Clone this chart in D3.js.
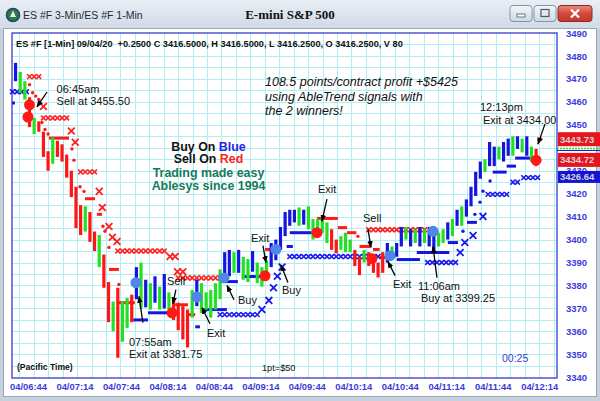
<!DOCTYPE html>
<html><head><meta charset="utf-8">
<script src="https://cdn.jsdelivr.net/npm/d3@7"></script>
<style>body{margin:0;background:#fff;overflow:hidden}svg{display:block;font-family:"Liberation Sans",Arial,sans-serif}</style>
</head><body>
<svg id="c" width="600" height="401"></svg>
<script>
// ---------------- DATA (time = minutes after 06:44, price in index points) ----------------
const xTickLabels = ["04/06:44","04/07:14","04/07:44","04/08:14","04/08:44","04/09:14","04/09:44","04/10:14","04/10:44","04/11:14","04/11:44","04/12:14"];
const xTickTimes  = [0,30,60,90,120,150,180,210,240,270,300,330];
// 3440 sits fully under the price tags in the reference, so it is not printed
const yTickLabels = [3340,3350,3360,3370,3380,3390,3400,3410,3420,3430,3450,3460,3470,3480,3490];

// 3-minute bars starting 06:36
const barHigh = [3477,3473,3469,3462,3453,3451.5,3447,3438.5,3444.5,3443,3441.5,3437,3430,3423,3415,3414.5,3412,3403.5,3402,3393.5,
 3381.5,3373,3379,3373,3374.5,3376,3388,3390,3382.5,3381,3384,3379.5,3385,3377,3374,3372.5,3371,3369.5,3378,3382.5,
 3381,3377,3378,3381,3387,3394.5,3395.5,3394.5,3395.5,3392.5,3391.5,3395,3390,3388,3391,3398.5,3400,3405.5,3412,3413,
 3413,3414,3413,3414.5,3409,3409,3410,3407.5,3404.5,3400,3401.5,3403,3400,3395.5,3392.5,3395.5,3394.5,3392.5,3390,3394.5,
 3398.5,3397,3398.5,3405.5,3405.5,3404.5,3404.5,3405.5,3404.5,3405.5,3403,3403,3404.5,3407.5,3409,3413,3414.5,3417.5,3423,3429.5,
 3434,3435,3442.5,3440.5,3440.5,3442.5,3444,3445,3445,3444,3445,3440.5,3439.5];
const barLow = [3469,3464,3461,3449,3446,3447,3436,3430,3433,3436,3434,3427,3418.5,3405,3402,3403.5,3399,3395,3388,3379,
 3364,3360,3348.5,3355.5,3361.5,3364,3374,3370,3370.5,3369.5,3372.5,3369.5,3370,3369.5,3365,3360.5,3356.5,3353,3366,3371,
 3368,3369.5,3366,3369.5,3374,3382.5,3384,3385.5,3385.5,3382.5,3381.5,3386,3381,3379.5,3382.5,3388,3391,3395.5,3401.5,3406,
 3407.5,3406,3406.5,3404.5,3400,3401.5,3403,3398.5,3395.5,3394,3395.5,3394.5,3394.5,3388.5,3384.5,3390,3388.5,3385.5,3383.5,3385.5,
 3390,3391.5,3392.5,3397,3400,3397,3398.5,3397,3398.5,3397,3394.5,3397,3398.5,3400,3401.5,3406,3406,3410,3414.5,3419,
 3426.5,3429.5,3432,3432,3435,3434,3436.5,3436.5,3439.5,3438,3436.5,3434,3432];
const barTrend = "BGGRGRRRGRRRRRRGRRGRRGRGGRBGBGBGBGRRRRGBGGGGGBBGBGGBGGGBBBBBBGBGGGGGRRGGGRRGRRRRBGBBGBGBGBBGGBGBGBBBBGBBGBBGBGBGR";

// AbleTrend stop levels: rows of x markers [from, to, price], single x [t, price], dots, dashes [from, to, price]
const redRows   = [[1,7,3471],[10,25,3453],[34,43,3429.5],[58,88,3395],[97,124,3383.3],[220,256,3404.3]];
const redSingle = [[10,3458],[28,3447.3],[30.5,3442.4],[46,3421],[48,3414],[52.3,3405.7],[54.5,3401],[57.5,3399.2],[91.7,3392.6],[95,3392.6],[96.5,3386],[100,3386]];
const redDots   = [[1,3467.5],[3,3464],[5,3462.5],[7,3461],[9,3451],[11,3448],[13,3446],[28.4,3439.5],[29.7,3434.6],[33.6,3423],[36.2,3421],[48.4,3405.8],[49.7,3403.6],[52.3,3396.6],[58.7,3380.4],[213,3401.4]];
const redDash   = [[13.6,26.5,3444.2],[36.8,43.3,3417.8],[44.5,47.8,3411],[52.3,58.7,3387],[58.7,69,3372.5],[95,103.3,3371.6],[103,108,3367.3],[153,159.5,3395.7],[186.6,200,3409.2],[200,206,3405.2],[206,212,3403],[214,221,3397],[222.7,227,3395.7],[227,233.7,3392.2],[329,332,3443.8]];
const blueRows   = [[-10,-1,3464.4],[124,148,3367.3],[169,226,3392.6],[258,276,3390],[297,309,3419.7],[313,316,3425],[320,329,3427]];
const blueSingle = [[151,3369.5],[155.5,3373.5],[158.5,3379],[161,3384],[164,3388],[279,3394.4],[282,3398.7],[287.3,3401.8],[293.7,3410.1]];
const blueDots   = [[280.8,3403.6],[288.5,3411],[291.8,3416.3],[293.7,3421.1],[298.3,3425.5]];
const blueDash   = [[-10.3,-8.4,3459.5],[68,77.5,3365],[77.5,93,3368.1],[108,111,3362],[112.3,128.4,3369.5],[127,135.5,3381.7],[138,151,3383.9],[167,171,3397],[169,186.6,3403],[238,253,3391.3],[251,272,3394.4],[271,277.6,3398.7],[283.4,289.8,3407.5],[300,309,3429.4],[309,315,3432],[314.5,327,3435.5]];

// signal circles
const sellCircles = [[0,3453.4],[1,3458.7],[93,3368.1],[153,3384.2],[186.6,3403],[222,3391.7],[328,3434.6]];
const buyCircles  = [[69.7,3381.2],[109,3375],[126.5,3383.3],[160,3395.7],[233.7,3393],[261.5,3403.6]];

// annotations: text lines, anchor (time, price), arrow from/to (time, price)
const notes = [
 {lines:["06:45am","Sell at 3455.50"], t:18.5, p:3463.9, indent:0, arrow:[12.3,3464.3,5.8,3457.8]},
 {lines:["07:55am","Exit at 3381.75"], t:65.2, p:3353.7, indent:0, arrow:[74.2,3363.8,71.7,3375.2]},
 {lines:["Sell"], t:89.7, p:3380, indent:0, arrow:[95.5,3378.2,93.6,3372.1]},
 {lines:["Exit"], t:115.6, p:3357.6, indent:0, arrow:[117.5,3363.3,112.3,3370.3]},
 {lines:["Buy"], t:135.6, p:3372, indent:0, arrow:[133,3373.8,128.5,3380]},
 {lines:["Exit"], t:144, p:3399.1, indent:0, arrow:[151.7,3397.4,153.6,3390]},
 {lines:["Buy"], t:164, p:3376.4, indent:0, arrow:[167.8,3381.3,163.3,3389]},
 {lines:["Exit"], t:187.2, p:3420.2, indent:0, arrow:[193,3417.6,189.8,3408]},
 {lines:["Sell"], t:216.3, p:3407.5, indent:0, arrow:[219.5,3404.5,221.4,3396.6]},
 {lines:["Exit"], t:235.6, p:3379, indent:0, arrow:[237,3384.3,232.4,3390.4]},
 {lines:["11:06am","Buy at 3399.25"], t:251.8, p:3378.2, indent:3, arrow:[264,3383.4,261.5,3396.9]},
 {lines:["12:13pm","Exit at 3434.00"], t:291.8, p:3455.9, indent:3, arrow:[333.8,3450.4,329.2,3441.6]}
];
const priceTags = [3443.73, 3434.72, 3426.64];
const priceTagColors = ["#e8141c","#e8141c","#1414d4"];

// ---------------- DRAWING ----------------
const svg = d3.select("#c");
const x = d3.scaleLinear().domain([-10.3, 341.5]).range([12, 557]);
const y = d3.scaleLinear().domain([3340, 3490]).range([377.3, 33]);
const trendColor = {B:"#1515e0", G:"#22e022", R:"#ff1515"};

const defs = svg.append("defs");
const tg = defs.append("linearGradient").attr("id","tb").attr("x1",0).attr("y1",0).attr("x2",0).attr("y2",1);
tg.append("stop").attr("offset",0).attr("stop-color","#e8eef4");
tg.append("stop").attr("offset",1).attr("stop-color","#d0dae5");
const cg = defs.append("linearGradient").attr("id","cl").attr("x1",0).attr("y1",0).attr("x2",0).attr("y2",1);
cg.append("stop").attr("offset",0).attr("stop-color","#ec8a7c");
cg.append("stop").attr("offset",0.5).attr("stop-color","#d4493b");
cg.append("stop").attr("offset",1).attr("stop-color","#c0392b");
const bg = defs.append("linearGradient").attr("id","bt").attr("x1",0).attr("y1",0).attr("x2",0).attr("y2",1);
bg.append("stop").attr("offset",0).attr("stop-color","#f4f7fa");
bg.append("stop").attr("offset",1).attr("stop-color","#cfd8e2");
defs.append("marker").attr("id","ah").attr("viewBox","0 0 10 10").attr("refX",9).attr("refY",5)
  .attr("markerWidth",7).attr("markerHeight",7).attr("markerUnits","userSpaceOnUse").attr("orient","auto")
  .append("path").attr("d","M0,1L10,5L0,9Z").attr("fill","#000");

// window frame
svg.append("rect").attr("x",0).attr("y",0).attr("width",600).attr("height",401).attr("fill","#c6d1dd");
svg.append("rect").attr("x",0).attr("y",0).attr("width",600).attr("height",29).attr("fill","url(#tb)");
svg.append("rect").attr("x",3.5).attr("y",28.5).attr("width",593).attr("height",368).attr("fill","#fff").attr("stroke","#9aa7b5");
// icon
svg.append("circle").attr("cx",13).attr("cy",15).attr("r",6.5).attr("fill","#2e7a45").attr("stroke","#23407a").attr("stroke-width",1.5);
svg.append("path").attr("d","M13,10.5L16,17L10,17Z").attr("fill","#e8f4e8");
svg.append("text").attr("x",23).attr("y",19).attr("font-size",10.5).attr("fill","#1e2a36").text("ES #F 3-Min/ES #F 1-Min");
svg.append("text").attr("x",290).attr("y",19).attr("text-anchor","middle").attr("font-family","'Liberation Serif','Times New Roman',serif")
  .attr("font-weight","bold").attr("font-size",13).attr("fill","#111").text("E-mini S&P 500");
// buttons
[[510,"min"],[534,"max"]].forEach(([bx,k])=>{
  svg.append("rect").attr("x",bx).attr("y",5.5).attr("width",22).attr("height",16).attr("rx",3).attr("fill","url(#bt)").attr("stroke","#8594a6");
  if(k==="min") svg.append("rect").attr("x",bx+7).attr("y",14).attr("width",8).attr("height",3).attr("fill","#fff").attr("stroke","#4a5a6c").attr("stroke-width",0.8);
  else svg.append("rect").attr("x",bx+7).attr("y",9.5).attr("width",8).attr("height",7).attr("fill","none").attr("stroke","#4a5a6c").attr("stroke-width",1.2);
});
svg.append("rect").attr("x",558).attr("y",5.5).attr("width",34).attr("height",16).attr("rx",3).attr("fill","url(#cl)").attr("stroke","#8a2b22");
svg.append("path").attr("d","M571,9.5L579,17.5M579,9.5L571,17.5").attr("stroke","#fff").attr("stroke-width",2.2);

// plot box + grid
svg.append("rect").attr("x",12).attr("y",33).attr("width",545).attr("height",345).attr("fill","#fff");
const grid = svg.append("g").attr("stroke","#aeeef4").attr("stroke-width",1);
d3.range(3345, 3490, 5).forEach(v=>grid.append("line").attr("x1",12).attr("x2",557).attr("y1",Math.round(y(v))+0.5).attr("y2",Math.round(y(v))+0.5));
d3.range(19.3, 557, 14.44).forEach(px=>grid.append("line").attr("y1",33).attr("y2",378).attr("x1",Math.round(px)+0.5).attr("x2",Math.round(px)+0.5));
svg.append("rect").attr("x",12).attr("y",33).attr("width",545).attr("height",345).attr("fill","none").attr("stroke","#3a3acc").attr("stroke-width",1.3);

svg.append("text").attr("x",16).attr("y",46.5).attr("font-size",9.2).attr("font-weight","bold").attr("fill","#111")
  .attr("xml:space","preserve").text("ES #F [1-Min] 09/04/20  +0.2500 C 3416.5000, H 3416.5000, L 3416.2500, O 3416.2500, V 80");

const plot = svg.append("g");
function rowPts(rows){const o=[];rows.forEach(([a,b,p])=>{for(let t=a;t<=b+0.01;t+=3)o.push([t,p]);});return o;}
function xMark(g, pts, s, col, w){
  g.selectAll(null).data(pts).enter().append("path")
   .attr("d",d=>{const cx=x(d[0]),cy=y(d[1]);return `M${cx-s},${cy-s}L${cx+s},${cy+s}M${cx-s},${cy+s}L${cx+s},${cy-s}`;})
   .attr("stroke",col).attr("stroke-width",w).attr("fill","none");
}
function dash(g, segs, col){
  g.selectAll(null).data(segs).enter().append("line")
   .attr("x1",d=>x(d[0])).attr("x2",d=>x(d[1])).attr("y1",d=>y(d[2])).attr("y2",d=>y(d[2]))
   .attr("stroke",col).attr("stroke-width",3);
}
function dots(g, pts, col){
  g.selectAll(null).data(pts).enter().append("circle").attr("cx",d=>x(d[0])).attr("cy",d=>y(d[1])).attr("r",1.7).attr("fill",col);
}
dash(plot, redDash, "#ff1a1a"); dash(plot, blueDash, "#1414e6");
dots(plot, redDots, "#ff1a1a"); dots(plot, blueDots, "#1414e6");
xMark(plot, rowPts(redRows), 2.4, "#ff2020", 1.6); xMark(plot, redSingle, 3.4, "#ff2020", 1.8);
xMark(plot, rowPts(blueRows), 2.4, "#1a1aee", 1.6); xMark(plot, blueSingle, 3.4, "#1a1aee", 1.8);

// price bars
const bars = barHigh.map((h,i)=>({t:-8+3*i, h, l:barLow[i], c:barTrend[i]}));
plot.selectAll(".bar").data(bars).enter().append("line").attr("class","bar")
  .attr("x1",d=>x(d.t)).attr("x2",d=>x(d.t)).attr("y1",d=>y(d.h)).attr("y2",d=>y(d.l))
  .attr("stroke",d=>trendColor[d.c]).attr("stroke-width",3.2);

// signal circles
plot.selectAll(".sc").data(sellCircles).enter().append("circle").attr("cx",d=>x(d[0])).attr("cy",d=>y(d[1])).attr("r",5.5).attr("fill","#ff1a1a");
plot.selectAll(".bc").data(buyCircles).enter().append("circle").attr("cx",d=>x(d[0])).attr("cy",d=>y(d[1])).attr("r",5.5).attr("fill","#4f86e8");

// annotations
notes.forEach(n=>{
  const [t1,p1,t2,p2]=n.arrow;
  plot.append("line").attr("x1",x(t1)).attr("y1",y(p1)).attr("x2",x(t2)).attr("y2",y(p2))
    .attr("stroke","#000").attr("stroke-width",1.3).attr("marker-end","url(#ah)");
  n.lines.forEach((s,k)=>plot.append("text").attr("x",x(n.t)+(k?n.indent:0)).attr("y",y(n.p)+k*12.5)
    .attr("font-size",11).attr("fill","#111").text(s));
});

// info texts
const info = ["108.5 points/contract profit +$5425","using AbleTrend signals with","the 2 winners!"];
info.forEach((s,k)=>svg.append("text").attr("x",265).attr("y",86+k*14.7).attr("font-size",12.5).attr("font-style","italic").attr("fill","#111").text(s));
const lg = svg.append("g").attr("font-weight","bold").attr("font-size",12.4).attr("text-anchor","middle");
const l1 = lg.append("text").attr("x",208.5).attr("y",150.5).attr("fill","#111"); l1.append("tspan").text("Buy On "); l1.append("tspan").attr("fill","#2424e6").text("Blue");
const l2 = lg.append("text").attr("x",208.5).attr("y",163.2).attr("fill","#111"); l2.append("tspan").text("Sell On "); l2.append("tspan").attr("fill","#ff2020").text("Red");
lg.append("text").attr("x",208.5).attr("y",176.5).attr("fill","#167a5a").text("Trading made easy");
lg.append("text").attr("x",208.5).attr("y",189.8).attr("fill","#167a5a").text("Ablesys since 1994");
svg.append("text").attr("x",17).attr("y",369.5).attr("font-size",8.6).attr("font-weight","bold").attr("fill","#111").text("(Pacific Time)");
svg.append("text").attr("x",262).attr("y",371).attr("font-size",9.2).attr("fill","#111").text("1pt=$50");
svg.append("text").attr("x",502).attr("y",362).attr("font-size",10.5).attr("fill","#3c3cd4").text("00:25");

// axes
const xAxis = d3.axisBottom(x).tickValues(xTickTimes).tickFormat((d,i)=>xTickLabels[i]).tickSize(0).tickPadding(0);
const gx = svg.append("g").attr("transform","translate(0,383)").call(xAxis);
gx.select(".domain").remove();
gx.selectAll("text").attr("font-size",9.4).attr("font-weight","bold").attr("fill","#3b3bdb").attr("font-family","'Liberation Sans',Arial,sans-serif");
const yAxis = d3.axisRight(y).tickValues(yTickLabels).tickFormat(d3.format("d")).tickSize(0).tickPadding(0);
const gy = svg.append("g").attr("transform","translate(566,0)").call(yAxis);
gy.select(".domain").remove();
gy.selectAll("text").attr("font-size",9.5).attr("font-weight","bold").attr("fill","#3b3bdb").attr("font-family","'Liberation Sans',Arial,sans-serif");

// right-side price tags (drawn over the axis, as in the platform)
svg.append("line").attr("x1",557).attr("x2",600).attr("y1",148.5).attr("y2",148.5).attr("stroke","#2ed82e").attr("stroke-width",1.5).attr("stroke-dasharray","2,1");
svg.append("line").attr("x1",557).attr("x2",600).attr("y1",150.5).attr("y2",150.5).attr("stroke","#2020e0").attr("stroke-width",1.2);
priceTags.forEach((v,i)=>{
  const h = i===2?12:14;
  svg.append("rect").attr("x",558).attr("y",y(v)-h/2-(i===2?1.5:0)).attr("width",42).attr("height",h).attr("fill",priceTagColors[i]);
  svg.append("text").attr("x",560).attr("y",y(v)+3.4-(i===2?1.5:0)).attr("font-size",9.5).attr("font-weight","bold").attr("fill","#d6d6d6").text(v.toFixed(2));
});
</script>
</body></html>
